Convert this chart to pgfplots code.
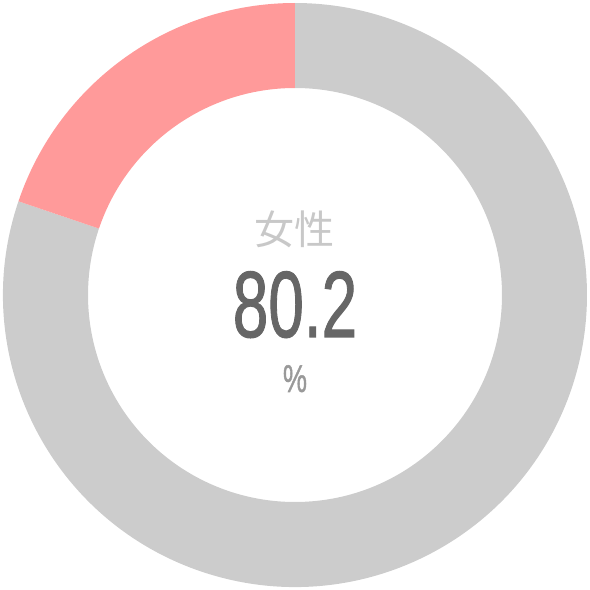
\documentclass[border=0pt]{standalone}
\usepackage{pgfplots}
\pgfplotsset{compat=1.18}
\usepackage{pgfplotstable}
\usepackage{fontspec}
\setmainfont{Liberation Sans}
\newfontfamily\cjk{Noto Sans CJK JP}
\newfontfamily\numfont{Liberation Sans}[FakeBold=1.3]
\definecolor{ringgray}{HTML}{CCCCCC}
\definecolor{ringpink}{HTML}{FF9A9A}
\definecolor{numgray}{HTML}{666666}
\definecolor{labgray}{HTML}{C8C8C8}
\definecolor{pctgray}{HTML}{999999}

\pgfplotstableread{
label value
female 80.2
other 19.8
}\donutdata
\pgfplotstablegetelem{0}{value}\of\donutdata \let\vfemale\pgfplotsretval
\pgfplotstablegetelem{1}{value}\of\donutdata \let\vother\pgfplotsretval
% pink slice runs counterclockwise from 12 o'clock, grey takes the rest
\pgfmathsetmacro{\aend}{90+3.6*\vother}
\pgfmathsetmacro{\gend}{\aend+3.6*\vfemale}
% radii: 292 px and 207 px, 1 px = 15cm/590
\pgfmathsetmacro{\Ro}{292*15/590}
\pgfmathsetmacro{\Ri}{207*15/590}

\begin{document}
\begin{tikzpicture}
\begin{axis}[
  scale only axis, width=15cm, height=15cm,
  xmin=0, xmax=590, ymin=0, ymax=590,
  hide axis, clip=false,
]
\coordinate (C) at (axis cs:295,295);
\coordinate (SW) at (axis cs:0,0);
\coordinate (NE) at (axis cs:590,590);
\fill[ringgray] ([shift={(\aend:\Ro cm)}]C) arc[start angle=\aend, end angle=\gend, radius=\Ro cm]
  -- ([shift={(\gend:\Ri cm)}]C) arc[start angle=\gend, end angle=\aend, radius=\Ri cm] -- cycle;
\fill[ringpink] ([shift={(90:\Ro cm)}]C) arc[start angle=90, end angle=\aend, radius=\Ro cm]
  -- ([shift={(\aend:\Ri cm)}]C) arc[start angle=\aend, end angle=90, radius=\Ri cm] -- cycle;
\node[anchor=base, labgray, inner sep=0pt] at (axis cs:295,345) {\fontsize{29}{29}\selectfont\cjk 女性};
\node[anchor=base, numgray, inner sep=0pt] at (axis cs:295,253) {\scalebox{0.68}[1]{\fontsize{68}{68}\selectfont\numfont 80.2}};
\node[anchor=base, pctgray, inner sep=0pt] at (axis cs:295,198) {\scalebox{0.7}[1]{\fontsize{28}{28}\selectfont\numfont\%}};
\end{axis}
\pgfresetboundingbox
\path[use as bounding box] (SW) rectangle (NE);
\end{tikzpicture}
\end{document}
